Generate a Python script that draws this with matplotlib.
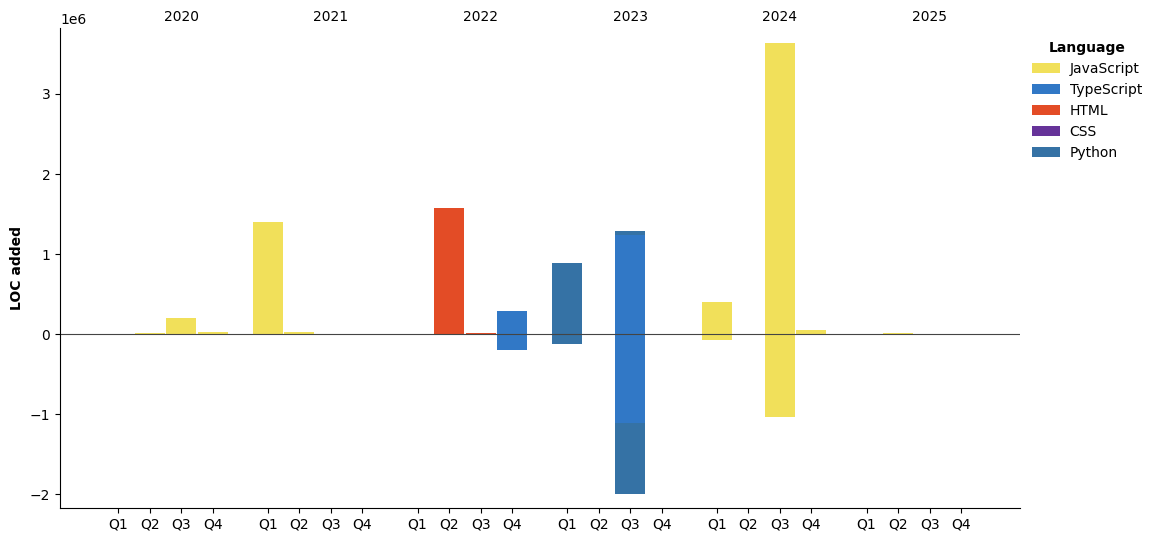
import matplotlib
matplotlib.use("Agg")
import matplotlib.pyplot as plt
import numpy as np

years = [2020, 2021, 2022, 2023, 2024, 2025]
quarters = ["Q1", "Q2", "Q3", "Q4"]
languages = ["JavaScript", "TypeScript", "HTML", "CSS", "Python"]
colors = {"JavaScript": "#f1e05a", "TypeScript": "#3178c6", "HTML": "#e34c26",
          "CSS": "#663399", "Python": "#3572A5"}

# positive LOC added per quarter (24 quarters: 2020Q1..2025Q4)
pos_js = [0, 8000, 200000, 25000, 1400000, 25000, 0, 0, 0, 0, 0, 0,
          0, 0, 0, 0, 400000, 6000, 3640000, 50000, 0, 8000, 0, 0]
pos_ts = [0, 0, 0, 0, 0, 0, 0, 0, 0, 0, 0, 290000,
          0, 0, 1240000, 0, 0, 0, 0, 0, 0, 0, 0, 0]
pos_html = [0, 0, 0, 0, 0, 0, 0, 0, 0, 1575000, 8000, 0,
            0, 0, 0, 0, 0, 0, 0, 0, 0, 0, 0, 0]
pos_css = [0] * 24
pos_py = [0, 0, 0, 0, 0, 0, 0, 0, 0, 0, 0, 0,
          885000, 0, 45000, 0, 0, 0, 0, 0, 0, 0, 0, 0]

# negative (lines removed) per quarter
neg_js = [0, 0, 0, 0, 0, 0, 0, 0, 0, 0, 0, 0,
          0, 0, 0, 0, -75000, 0, -1035000, 0, 0, 0, 0, 0]
neg_ts = [0, 0, 0, 0, 0, 0, 0, 0, 0, 0, 0, -195000,
          0, 0, -1110000, 0, 0, 0, 0, 0, 0, 0, 0, 0]
neg_html = [0] * 24
neg_css = [0] * 24
neg_py = [0, 0, 0, 0, 0, 0, 0, 0, 0, 0, 0, 0,
          -125000, 0, -890000, 0, 0, 0, 0, 0, 0, 0, 0, 0]

pos = {"JavaScript": pos_js, "TypeScript": pos_ts, "HTML": pos_html,
       "CSS": pos_css, "Python": pos_py}
neg = {"JavaScript": neg_js, "TypeScript": neg_ts, "HTML": neg_html,
       "CSS": neg_css, "Python": neg_py}

year_step = 4.75
x = np.array([yi * year_step + qi for yi in range(len(years)) for qi in range(4)])

fig = plt.figure(figsize=(11.59, 5.42), dpi=100)
ax = fig.add_axes([60 / 1159, 34 / 542, 960 / 1159, 480 / 542])

width = 0.95
bottom_pos = np.zeros(len(x))
bottom_neg = np.zeros(len(x))
for lang in languages:
    p = np.array(pos[lang], dtype=float)
    n = np.array(neg[lang], dtype=float)
    ax.bar(x, p, width=width, bottom=bottom_pos, color=colors[lang], label=lang, linewidth=0)
    ax.bar(x, n, width=width, bottom=bottom_neg, color=colors[lang], linewidth=0)
    bottom_pos += p
    bottom_neg += n

ax.axhline(0, color="#444444", linewidth=0.8)

ax.set_xticks(x)
ax.set_xticklabels(quarters * len(years))
for yi, yr in enumerate(years):
    ax.text(yi * year_step + 2, 1.023, str(yr), transform=ax.get_xaxis_transform(),
            ha="center", va="center", fontsize=10)

ax.set_xlim(x[0] - 1.85, x[-1] + 1.87)
ax.set_ylim(-2.175e6, 3.825e6)
ax.set_ylabel("LOC added", fontweight="bold", fontsize=10)
ax.spines["top"].set_visible(False)
ax.spines["right"].set_visible(False)

leg = ax.legend(title="Language", loc="upper left", bbox_to_anchor=(0.9995, 0.999),
                frameon=False, fontsize=10, handletextpad=0.7)
leg.get_title().set_fontweight("bold")

fig.savefig("out.png", dpi=100)
